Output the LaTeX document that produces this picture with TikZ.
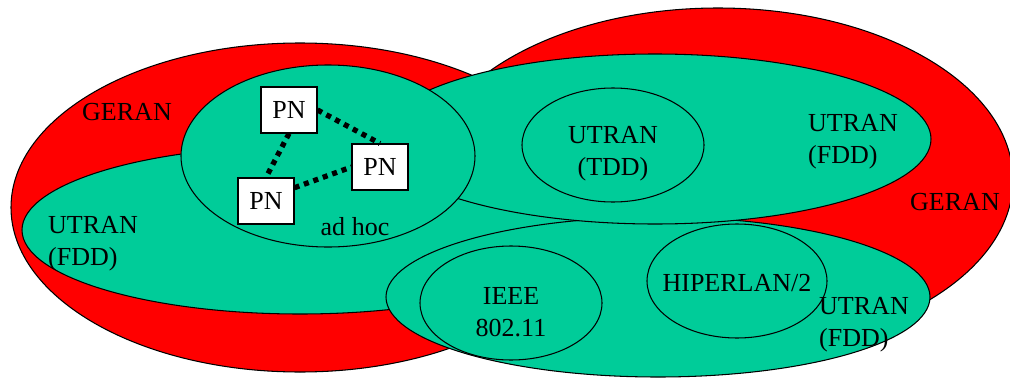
\documentclass[tikz,border=0pt]{standalone}
\usepackage{fontspec}
\setmainfont{Liberation Serif}
\definecolor{geranred}{RGB}{255,0,0}
\definecolor{utrangreen}{RGB}{0,204,153}

\begin{document}
\begin{tikzpicture}[every node/.style={font=\fontsize{14.8}{18.2}\selectfont},
  geran/.style={fill=geranred, draw=black, line width=0.6pt},
  utran/.style={fill=utrangreen, draw=black, line width=0.6pt},
  cell/.style={draw=black, line width=0.6pt},
  pn/.style={draw=black, fill=white, line width=0.6pt, inner sep=0pt,
    minimum width=1.12cm, minimum height=0.92cm},
  adhoclink/.style={line width=3pt, dash pattern=on 2.9pt off 2.8pt}]

  \useasboundingbox (0,0) rectangle (20.2,7.64);

  %% GERAN coverage (red)
  \draw[geran] (14.36,4.04) ellipse (5.9 and 3.44);
  \draw[geran] (6.0,3.49) ellipse (5.78 and 3.29);

  %% UTRAN (FDD) coverage (green)
  \draw[utran] (6.0,3.04) ellipse (5.56 and 1.68);
  \draw[utran] (13.16,1.70) ellipse (5.44 and 1.60);
  \draw[utran] (13.1,4.86) ellipse (5.52 and 1.70);

  %% Smaller areas
  \draw[utran] (6.56,4.52) ellipse (2.94 and 1.82);
  \draw[cell] (12.26,4.74) ellipse (1.82 and 1.14);
  \draw[cell] (10.22,1.58) ellipse (1.82 and 1.14);
  \draw[cell] (14.74,2.02) ellipse (1.80 and 1.14);

  %% Labels
  \node (geranL) at (2.54,5.40) {GERAN};
  \node (geranR) at (19.1,3.60) {GERAN};
  \node[anchor=west, align=left] (fddL) at (0.84,2.76) {UTRAN\\(FDD)};
  \node[anchor=west, align=left] (fddU) at (16.04,4.80) {UTRAN\\(FDD)};
  \node[anchor=west, align=left] (fddD) at (16.26,1.14) {UTRAN\\(FDD)};
  \node[align=center] (tdd) at (12.26,4.56) {UTRAN\\(TDD)};
  \node[align=center] (ieee) at (10.22,1.40) {IEEE\\802.11};
  \node (hiperlan) at (14.74,1.98) {HIPERLAN/2};
  \node (adhoc) at (7.10,3.10) {ad hoc};

  %% Personal networks
  \node[pn] (pn1) at (5.78,5.44) {PN};
  \node[pn] (pn2) at (7.60,4.30) {PN};
  \node[pn] (pn3) at (5.32,3.62) {PN};

  % ad hoc links
  \draw[adhoclink] (pn1.east) -- (pn2.north);
  \draw[adhoclink] (pn1.south) -- (pn3.north);
  \draw[adhoclink] (pn3.25) -- (pn2.west);

\end{tikzpicture}
\end{document}
